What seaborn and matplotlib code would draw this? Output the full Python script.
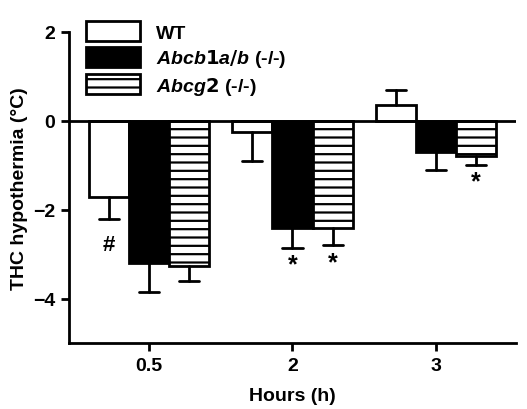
import matplotlib
matplotlib.use("Agg")
import matplotlib.pyplot as plt
import seaborn as sns
import pandas as pd
import numpy as np

hours = ["0.5", "2", "3"]
groups = ["WT", "Abcb1a/b (-/-)", "Abcg2 (-/-)"]
wt = [-1.7, -0.25, 0.35]
abcb = [-3.2, -2.4, -0.7]
abcg = [-3.25, -2.4, -0.8]
wt_err = [0.5, 0.65, 0.35]
abcb_err = [0.65, 0.45, 0.4]
abcg_err = [0.35, 0.4, 0.2]

sns.set_style("ticks")
plt.rcParams['font.family'] = ['Liberation Sans', 'DejaVu Sans']
plt.rcParams['font.weight'] = 'bold'
plt.rcParams['hatch.linewidth'] = 1.6
plt.rcParams['mathtext.fontset'] = 'custom'
plt.rcParams['mathtext.bfit'] = 'Liberation Sans:italic:bold'
plt.rcParams['mathtext.it'] = 'Liberation Sans:italic:bold'
plt.rcParams['mathtext.bf'] = 'Liberation Sans:bold'
for k in ['text.color', 'axes.labelcolor', 'xtick.color', 'ytick.color', 'axes.edgecolor']:
    plt.rcParams[k] = 'black'

rows = []
for g, vals in zip(groups, [wt, abcb, abcg]):
    for h, v in zip(hours, vals):
        rows.append({"Hours": h, "Group": g, "Val": v})
df = pd.DataFrame(rows)

fig, ax = plt.subplots(figsize=(5.27, 4.10), dpi=100)
sns.barplot(data=df, x="Hours", y="Val", hue="Group", order=hours, hue_order=groups,
            palette=["white", "black", "white"], edgecolor="black", linewidth=2,
            errorbar=None, width=0.84, saturation=1, ax=ax)
errs = [wt_err, abcb_err, abcg_err]
for ci, cont in enumerate(ax.containers):
    for bi, bar in enumerate(cont):
        if ci == 2:
            bar.set_hatch("--")
        x = bar.get_x() + bar.get_width() / 2
        v = [wt, abcb, abcg][ci][bi]
        e = errs[ci][bi]
        tip = v + (e if v > 0 else -e)
        ax.plot([x, x], [v, tip], color="black", lw=2, zorder=1)
        ax.plot([x - 0.07, x + 0.07], [tip, tip], color="black", lw=2, zorder=1)

ax.axhline(0, color="black", lw=2)
ax.set_ylim(-5, 2)
ax.set_yticks([-4, -2, 0, 2])
ax.set_xlabel("Hours (h)", fontsize=14, fontweight="bold", labelpad=10)
ax.set_ylabel("THC hypothermia (°C)", fontsize=14, fontweight="bold")
ax.tick_params(labelsize=14, width=2, length=6)
for lab in ax.get_xticklabels() + ax.get_yticklabels():
    lab.set_fontweight("bold")
sns.despine(ax=ax)
ax.spines["left"].set_linewidth(2)
ax.spines["bottom"].set_linewidth(2)

ax.text(-0.28, -2.55, "#", ha="center", va="top", fontsize=16, fontweight="bold")
ax.text(1.0, -2.95, "*", ha="center", va="top", fontsize=18, fontweight="bold")
ax.text(1.28, -2.9, "*", ha="center", va="top", fontsize=18, fontweight="bold")
ax.text(2.28, -1.1, "*", ha="center", va="top", fontsize=18, fontweight="bold")

h, l = ax.get_legend_handles_labels()
leg = ax.legend(h, ["WT", "$\\mathit{Abcb1a/b}$ (-/-)", "$\\mathit{Abcg2}$ (-/-)"],
                loc="upper left", bbox_to_anchor=(0.0, 1.09), frameon=False,
                fontsize=14, handlelength=2.8, handleheight=1.2, labelspacing=0.25)
leg.legend_handles[2].set_hatch("--")
for t in leg.get_texts():
    t.set_fontweight("bold")

fig.subplots_adjust(left=0.13, right=0.98, top=0.92, bottom=0.16)
fig.savefig("out.png", dpi=100)
